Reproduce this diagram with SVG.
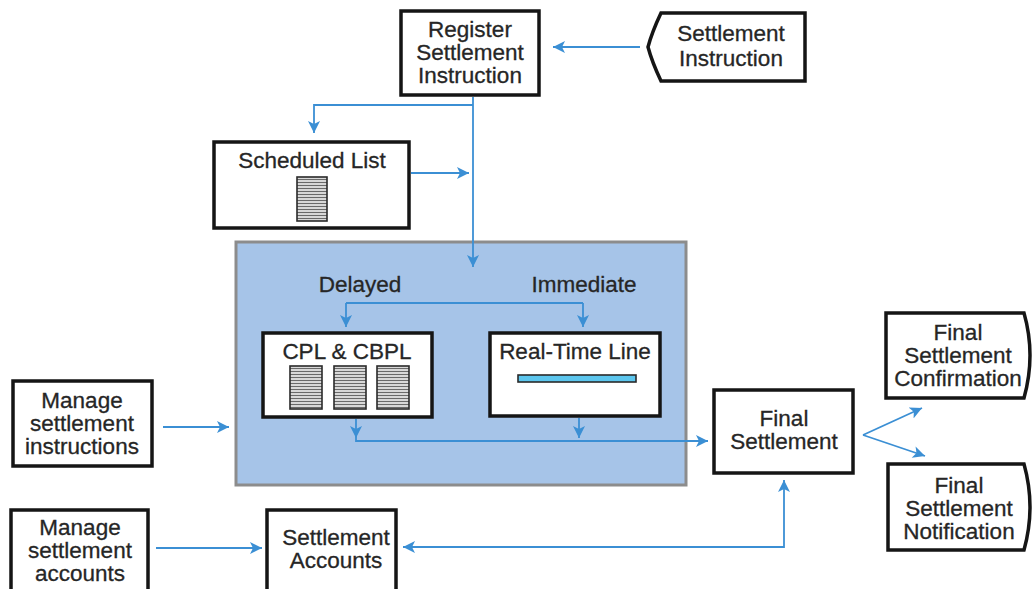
<svg xmlns="http://www.w3.org/2000/svg" width="1034" height="589" viewBox="0 0 1034 589">
<style>
.box{fill:#fff;stroke:#151515;stroke-width:3.5}
.t{font-family:"Liberation Sans",Arial,sans-serif;font-size:22.5px;fill:#262626;text-anchor:middle;stroke:#262626;stroke-width:0.3}
.c{fill:none;stroke:#3b8fd4;stroke-width:1.8}
.stack{fill:url(#stripes);stroke:#2a2a2a;stroke-width:1.6}
</style>
<defs>
<marker id="ah" viewBox="0 0 10 10" refX="10" refY="5" markerWidth="13" markerHeight="12" markerUnits="userSpaceOnUse" orient="auto-start-reverse">
<path d="M0,0 L10,5 L0,10 L2.5,5 Z" fill="#3b8fd4"/>
</marker>
<pattern id="stripes" width="4" height="3" patternUnits="userSpaceOnUse">
<rect width="4" height="3" fill="#d8d8d8"/>
<rect y="2" width="4" height="1" fill="#6a6a6a"/>
</pattern>
</defs>
<rect width="1034" height="589" fill="#fff"/>

<g id="processing-area">
<rect x="236" y="242" width="450" height="243" fill="#a6c4e8" stroke="#8c8c8c" stroke-width="3"/>
<text class="t" x="360" y="292">Delayed</text>
<text class="t" x="584" y="292">Immediate</text>
</g>

<g id="register">
<rect class="box" x="401" y="11" width="138" height="84"/>
<text class="t" x="470" y="37">Register</text>
<text class="t" x="470" y="60">Settlement</text>
<text class="t" x="470" y="83">Instruction</text>
</g>

<g id="settlement-instruction">
<path class="box" d="M661,13 H805 V81 H661 Q652,62 648,47 Q652,32 661,13 Z"/>
<text class="t" x="731" y="41">Settlement</text>
<text class="t" x="731" y="66">Instruction</text>
</g>

<g id="scheduled-list">
<rect class="box" x="214" y="142" width="195" height="86"/>
<text class="t" x="312" y="168">Scheduled List</text>
<rect class="stack" x="297" y="177" width="30" height="44"/>
</g>

<g id="cpl-cbpl">
<rect class="box" x="263" y="333" width="169" height="84"/>
<text class="t" x="347" y="359">CPL &amp; CBPL</text>
<rect class="stack" x="290" y="366" width="32" height="43"/>
<rect class="stack" x="334" y="366" width="32" height="43"/>
<rect class="stack" x="377" y="366" width="32" height="43"/>
</g>

<g id="real-time-line">
<rect class="box" x="490" y="333" width="170" height="83"/>
<text class="t" x="575" y="359">Real-Time Line</text>
<rect x="518" y="375" width="118" height="7" fill="#5cc6ee" stroke="#2a2a2a" stroke-width="1.6"/>
</g>

<g id="manage-instructions">
<rect class="box" x="13" y="381" width="139" height="85"/>
<text class="t" x="82" y="408">Manage</text>
<text class="t" x="82" y="431">settlement</text>
<text class="t" x="82" y="454">instructions</text>
</g>

<g id="manage-accounts">
<rect class="box" x="11" y="510" width="137" height="90"/>
<text class="t" x="80" y="535">Manage</text>
<text class="t" x="80" y="558">settlement</text>
<text class="t" x="80" y="581">accounts</text>
</g>

<g id="settlement-accounts">
<rect class="box" x="267" y="510" width="129" height="90"/>
<text class="t" x="336" y="545">Settlement</text>
<text class="t" x="336" y="568">Accounts</text>
</g>

<g id="final-settlement">
<rect class="box" x="714" y="390" width="139" height="83"/>
<text class="t" x="784" y="426">Final</text>
<text class="t" x="784" y="449">Settlement</text>
</g>

<g id="final-confirmation">
<path class="box" d="M886,313 H1024 Q1036,355 1024,398 H886 Z"/>
<text class="t" x="958" y="340">Final</text>
<text class="t" x="958" y="363">Settlement</text>
<text class="t" x="958" y="386">Confirmation</text>
</g>

<g id="final-notification">
<path class="box" d="M888,464 H1024 Q1036,507 1024,550 H888 Z"/>
<text class="t" x="959" y="493">Final</text>
<text class="t" x="959" y="516">Settlement</text>
<text class="t" x="959" y="539">Notification</text>
</g>

<g id="connectors">
<path class="c" d="M640,47 H553" marker-end="url(#ah)"/>
<path class="c" d="M473,97 V267" marker-end="url(#ah)"/>
<path class="c" d="M473,105 H314 V133" marker-end="url(#ah)"/>
<path class="c" d="M411,173 H469" marker-end="url(#ah)"/>
<path class="c" d="M346,303 H583"/>
<path class="c" d="M346,303 V327" marker-end="url(#ah)"/>
<path class="c" d="M583,303 V327" marker-end="url(#ah)"/>
<path class="c" d="M356,419 V438" marker-end="url(#ah)"/>
<path class="c" d="M579,418 V438" marker-end="url(#ah)"/>
<path class="c" d="M356,438 V441 H708" marker-end="url(#ah)"/>
<path class="c" d="M163,427 H229" marker-end="url(#ah)"/>
<path class="c" d="M863,435 L922,408" marker-end="url(#ah)"/>
<path class="c" d="M863,435 L925,456" marker-end="url(#ah)"/>
<path class="c" d="M403,547 H784 V480" marker-start="url(#ah)" marker-end="url(#ah)"/>
<path class="c" d="M156,548 H262" marker-end="url(#ah)"/>
</g>
</svg>
